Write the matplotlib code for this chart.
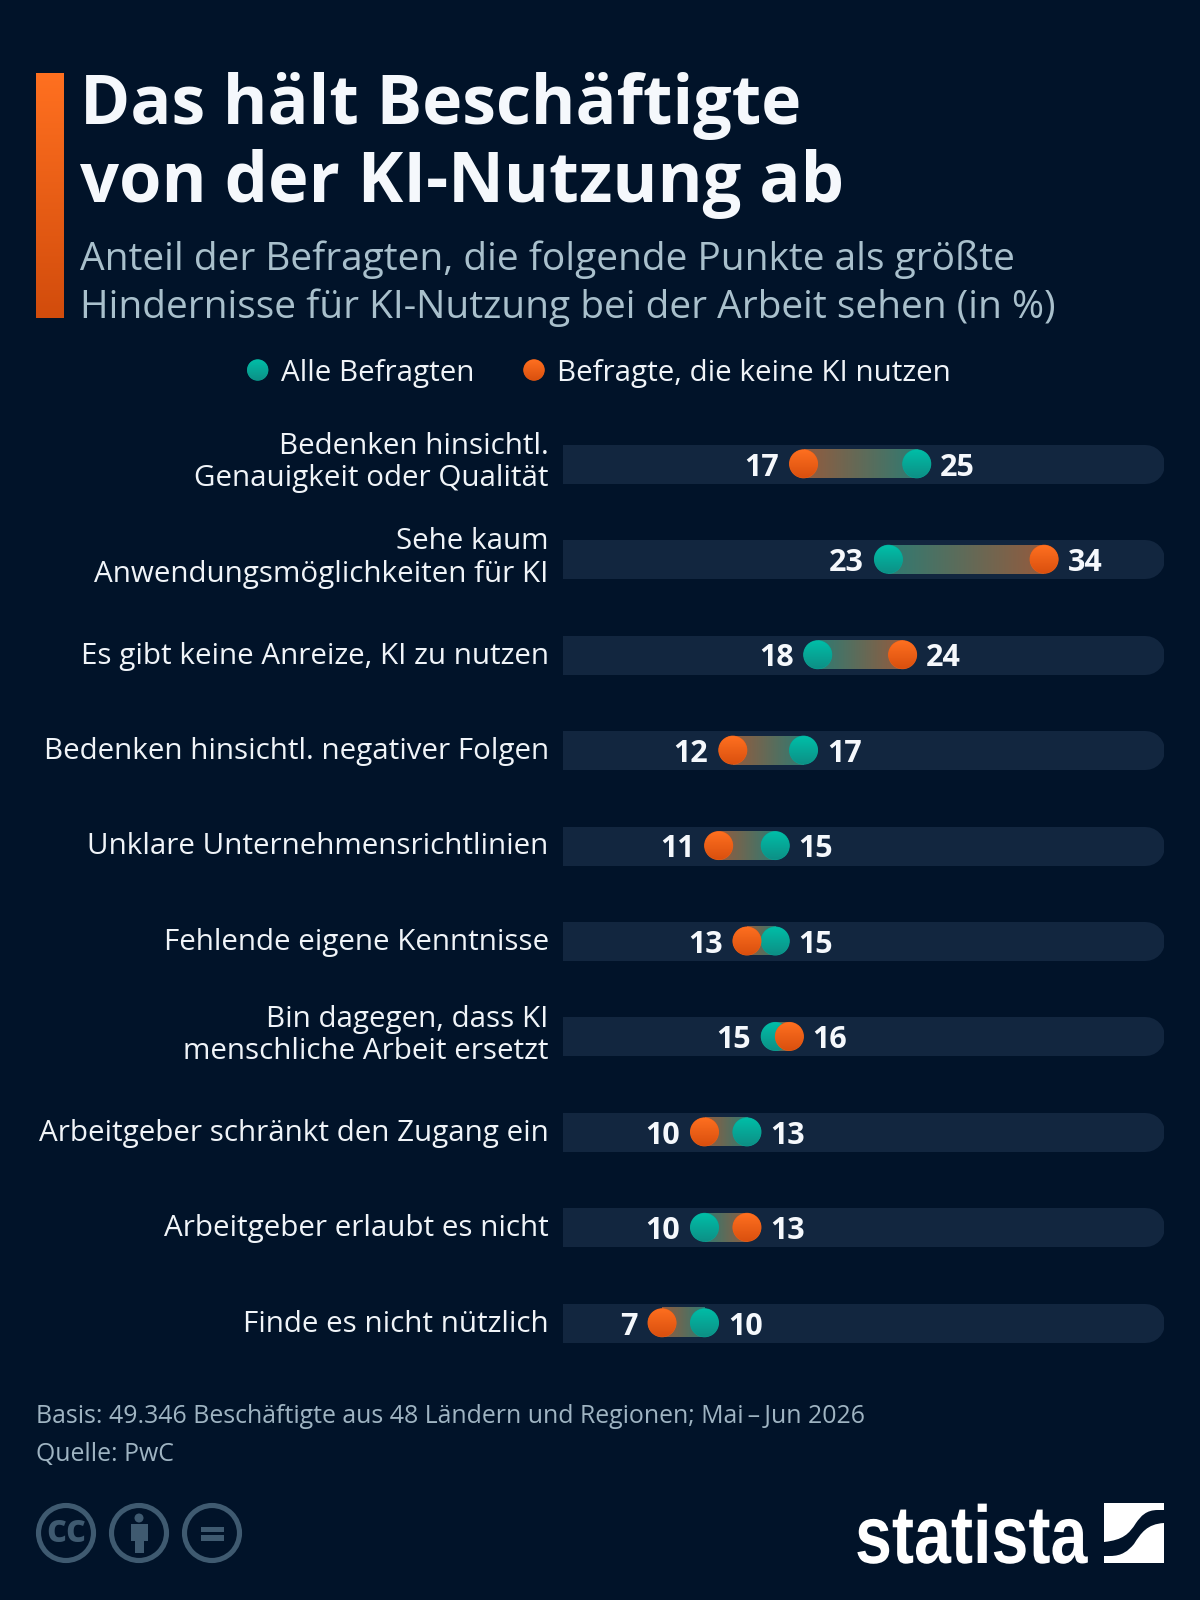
import matplotlib
matplotlib.use("Agg")
import matplotlib.pyplot as plt
import numpy as np
from matplotlib.patches import Circle, Ellipse, PathPatch, Rectangle
from matplotlib.path import Path
from matplotlib.patheffects import AbstractPathEffect
from matplotlib.transforms import Affine2D

plt.rcParams["font.family"] = ["Open Sans", "DejaVu Sans"]

TITLE = ["Das hält Beschäftigte", "von der KI-Nutzung ab"]
SUBTITLE = ["Anteil der Befragten, die folgende Punkte als größte",
            "Hindernisse für KI-Nutzung bei der Arbeit sehen (in %)"]
FOOTER = ["Basis: 49.346 Beschäftigte aus 48 Ländern und Regionen; Mai\u2009–\u2009Jun 2026",
          "Quelle: PwC"]
SERIES_NAMES = ["Alle Befragten", "Befragte, die keine KI nutzen"]

categories = [
    "Bedenken hinsichtl.\nGenauigkeit oder Qualität",
    "Sehe kaum\nAnwendungsmöglichkeiten für KI",
    "Es gibt keine Anreize, KI zu nutzen",
    "Bedenken hinsichtl. negativer Folgen",
    "Unklare Unternehmensrichtlinien",
    "Fehlende eigene Kenntnisse",
    "Bin dagegen, dass KI\nmenschliche Arbeit ersetzt",
    "Arbeitgeber schränkt den Zugang ein",
    "Arbeitgeber erlaubt es nicht",
    "Finde es nicht nützlich",
]
all_resp = [25, 23, 18, 17, 15, 15, 15, 13, 10, 10]
non_users = [17, 34, 24, 12, 11, 13, 16, 10, 13, 7]

BG = "#011329"
TRACK = "#12263f"
TEAL_TOP, TEAL_BOT = "#00bfa8", "#0d8f85"
ORANGE_TOP, ORANGE_BOT = "#ff7020", "#d94f0e"
TEAL_MUTED, ORANGE_MUTED = "#2f7a72", "#935b3e"
ICON = "#3f5a70"


class SqueezeX(AbstractPathEffect):
    """Narrow a text horizontally around a display x, it stays a text artist."""

    def __init__(self, factor, anchor):
        super().__init__()
        self.factor = factor
        self.anchor = anchor

    def draw_path(self, renderer, gc, tpath, affine, rgbFace=None):
        squeeze = Affine2D().translate(-self.anchor, 0).scale(self.factor, 1).translate(self.anchor, 0)
        renderer.draw_path(gc, tpath, affine + squeeze, rgbFace)


def rgb(c):
    return np.array(matplotlib.colors.to_rgb(c))


def ramp(c0, c1, vertical=False):
    t = np.linspace(0, 1, 128)[:, None]
    img = rgb(c0) * (1 - t) + rgb(c1) * t
    return img[:, None, :] if vertical else img[None, :, :]


def gradient_dot(target, x, y, rx, ry, top, bot, z):
    target.add_patch(Ellipse((x, y), 2 * rx, 2 * ry, color=rgb(top) * 0.5 + rgb(bot) * 0.5, lw=0, zorder=z))
    im = target.imshow(ramp(top, bot, vertical=True), extent=(x - rx, x + rx, y + ry, y - ry),
                       aspect="auto", zorder=z + 0.1)
    im.set_clip_path(Ellipse((x, y), 2 * rx * 0.97, 2 * ry * 0.97, transform=target.transData))


fig = plt.figure(figsize=(12, 16), dpi=100, facecolor=BG)

# full-figure layer in pixel coordinates for header, footer and logos
bg = fig.add_axes([0, 0, 1, 1])
bg.axis("off")

bg.imshow(ramp(ORANGE_TOP, "#d24c0c", vertical=True), extent=(36, 64, 318, 73),
          aspect="auto", zorder=1)

for txt, y, size in zip(TITLE, [124, 202], [49.0, 49.4]):
    bg.text(80, y, txt, fontsize=size, fontweight="bold", color="#f5f8fc", va="baseline")
for txt, y, size in zip(SUBTITLE, [270, 318], [27.98, 28.02]):
    bg.text(80, y, txt, fontsize=size, color="#a9c0cc", va="baseline")

# legend
gradient_dot(bg, 257.7, 370, 10.7, 10.7, TEAL_TOP, TEAL_BOT, 2)
bg.text(281, 381, SERIES_NAMES[0], fontsize=21.35, color="#f0f4f8", va="baseline")
gradient_dot(bg, 534, 370, 10.7, 10.7, ORANGE_TOP, ORANGE_BOT, 2)
bg.text(557, 381, SERIES_NAMES[1], fontsize=21.35, color="#f0f4f8", va="baseline")

# footer
for txt, y in zip(FOOTER, [1423, 1461]):
    bg.text(36, y, txt, fontsize=17.9, color="#9fb4c2", va="baseline")

# licence icons
for cx in (66, 139, 212):
    bg.add_patch(Circle((cx, 1533), 27.5, fill=False, ec=ICON, lw=3.7))
bg.text(66, 1532, "cc", fontsize=28, fontweight="bold", color=ICON, ha="center", va="center")
bg.add_patch(Circle((139, 1518), 4.5, color=ICON, lw=0))
bg.add_patch(Rectangle((130.5, 1524), 17, 17, color=ICON, lw=0))
bg.add_patch(Rectangle((134.5, 1540), 9, 13, color=ICON, lw=0))
bg.add_patch(Rectangle((201, 1526.7), 23, 5.6, color=ICON, lw=0))
bg.add_patch(Rectangle((201, 1535), 23, 6, color=ICON, lw=0))

# statista wordmark and mark
bg.text(855, 1563, "statista", fontsize=59, fontweight="bold", color="white",
        family=["Liberation Sans", "DejaVu Sans"], va="baseline",
        path_effects=[SqueezeX(0.81, 855)])
V = [Path.MOVETO, Path.LINETO, Path.LINETO, Path.LINETO, Path.CURVE4, Path.CURVE4,
     Path.CURVE4, Path.CURVE4, Path.CURVE4, Path.CURVE4, Path.CLOSEPOLY]
upper = [(1104, 1503), (1164, 1503), (1164, 1510), (1158, 1510), (1146, 1510),
         (1141, 1516), (1136, 1523), (1129, 1534), (1123, 1540), (1104, 1542), (1104, 1503)]
lower = [(1164, 1563), (1104, 1563), (1104, 1556), (1110, 1556), (1122, 1556),
         (1128, 1551), (1134, 1544), (1141, 1533), (1147, 1524), (1164, 1523), (1164, 1563)]
for verts in (upper, lower):
    bg.add_patch(PathPatch(Path(verts, V), fc="white", ec="none"))

bg.set_xlim(0, 1200)
bg.set_ylim(1600, 0)

# chart: x in percent, y in row index, frame runs along the tracks
PX_PER_UNIT = 14.15
ROW_PX = 95.44
x0, x1 = 563, 1164
y_top, y_bot = 463.8 - ROW_PX / 2, 463.8 + 9.5 * ROW_PX
ax = fig.add_axes([x0 / 1200, 1 - y_bot / 1600, (x1 - x0) / 1200, (y_bot - y_top) / 1600])
ax.patch.set_alpha(0)
ax.axis("off")
xmax = (x1 - x0) / PX_PER_UNIT
n = len(categories)

R_PX = 14.5
rx = R_PX / PX_PER_UNIT
ry = R_PX / ROW_PX

for i, (label, a, b) in enumerate(zip(categories, all_resp, non_users)):
    ax.plot([-3, xmax - 19.5 / PX_PER_UNIT], [i, i], color=TRACK, lw=39 * 0.72,
            solid_capstyle="round", zorder=1)

    lo, hi = min(a, b), max(a, b)
    left, right = (TEAL_MUTED, ORANGE_MUTED) if a < b else (ORANGE_MUTED, TEAL_MUTED)
    ax.imshow(ramp(left, right), extent=(lo, hi, i + ry, i - ry), aspect="auto", zorder=2)

    gradient_dot(ax, a, i, rx, ry, TEAL_TOP, TEAL_BOT, 3)
    gradient_dot(ax, b, i, rx, ry, ORANGE_TOP, ORANGE_BOT, 4)

    ax.annotate(str(lo), (lo, i), xytext=(-17.5, -0.2), textcoords="offset points", ha="right",
                va="center_baseline", fontsize=22, fontweight="bold", color="#f5f8fc", zorder=5)
    ax.annotate(str(hi), (hi, i), xytext=(16.8, -0.2), textcoords="offset points", ha="left",
                va="center_baseline", fontsize=22, fontweight="bold", color="#f5f8fc", zorder=5)
    dy = 0.9 if "\n" in label else -1.0
    ax.annotate(label, (0, i), xytext=(-10.3, dy), textcoords="offset points", ha="right",
                va="center", fontsize=21.35, color="#f0f4f8", linespacing=1.15, annotation_clip=False)

ax.set_xlim(0, xmax)
ax.set_ylim(n - 0.5, -0.5)

fig.savefig("out.png", dpi=100, facecolor=BG)
